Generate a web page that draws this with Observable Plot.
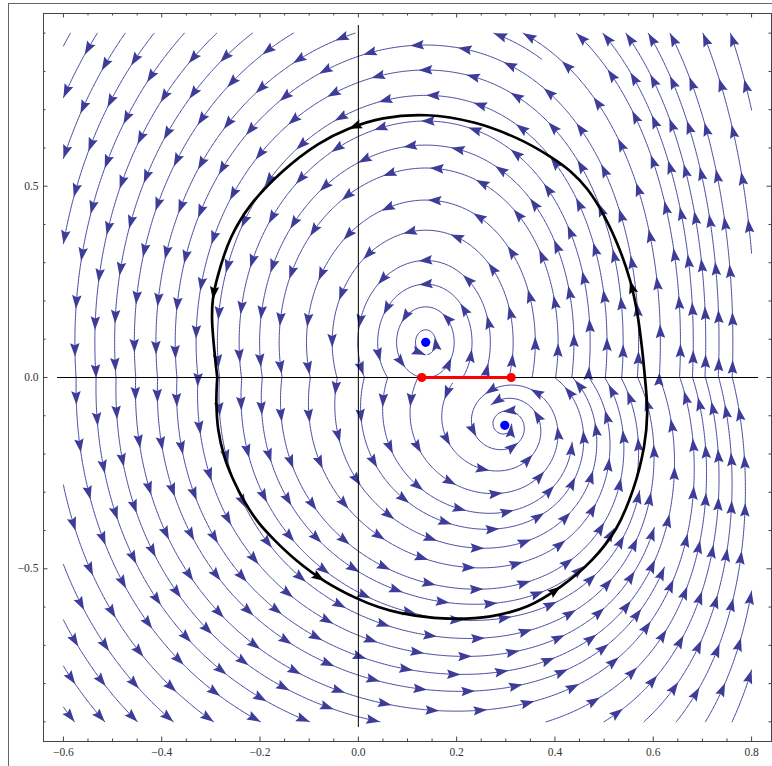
<!DOCTYPE html>
<html><head><meta charset="utf-8">
<script src="https://cdn.jsdelivr.net/npm/d3@7"></script>
<script src="https://cdn.jsdelivr.net/npm/@observablehq/plot@0.6"></script>
<style>
html,body{margin:0;padding:0;background:#fff;overflow:hidden;}
#wrap{position:relative;width:772px;height:766px;}
#border{position:absolute;left:8px;top:3px;width:780px;height:780px;border-left:1px solid #666;border-top:1px solid #666;pointer-events:none;}
#wrap svg{position:absolute;left:0;top:0;}
</style></head><body><div id="wrap"><div id="border"></div></div>
<script>
// ---------------- data ----------------
const xTicksMajor = [-0.6, -0.4, -0.2, 0.0, 0.2, 0.4, 0.6, 0.8];
const xTicksMinor = [-0.55,-0.5,-0.45,-0.35,-0.3,-0.25,-0.15,-0.1,-0.05,0.05,0.1,0.15,0.25,0.3,0.35,0.45,0.5,0.55,0.65,0.7,0.75];
const yTicksMajor = [-0.5, 0.0, 0.5];
const yTicksMinor = [-0.9,-0.8,-0.7,-0.6,-0.4,-0.3,-0.2,-0.1,0.1,0.2,0.3,0.4,0.6,0.7,0.8,0.9];
const xDomain = [-0.6405, 0.8405];
const yDomain = [-0.9514, 0.9514];
const streamRegionX = [-0.6, 0.8];
const streamRegionY = [-0.9, 0.9];
const axisExtentX = [-0.612, 0.814];
const axisExtentY = [-0.915, 0.92];
// equilibria (blue points)
const centers = [[0.137, 0.092], [0.298, -0.125]];
// sliding segment (red)
const slidingSegment = [[0.129, 0], [0.311, 0]];
// estimated vector-field coefficients [k, q, s, lambda, c] for the upper (y>0) and lower (y<0) half-planes
const upperFieldCoef = [0.55, 2.5, 2.0, 0.0, 0.0];
const lowerFieldCoef = [0.85, 1.5, 2.0, -0.2, -0.2];
const orbitUpper = [
  [0.583,0.0],[0.578,0.0706],[0.568,0.175],[0.554,0.2535],[0.534,0.332],[0.500,0.428],[0.466,0.497],
  [0.432,0.541],[0.391,0.578],[0.330,0.625],[0.235,0.672],[0.140,0.691],[0.045,0.682],[-0.022,0.650],
  [-0.077,0.619],[-0.158,0.541],[-0.226,0.445],[-0.260,0.376],[-0.290,0.2535],[-0.297,0.201],
  [-0.299,0.160],[-0.294,0.079],[-0.287,0.0]
];
const orbitLower = [
  [-0.287,0.0],[-0.290,-0.060],[-0.287,-0.1385],[-0.2735,-0.208],[-0.258,-0.261],[-0.228,-0.335],
  [-0.2056,-0.378],[-0.172,-0.424],[-0.131,-0.475],[-0.070,-0.535],[-0.002,-0.580],[0.045,-0.602],
  [0.0725,-0.614],[0.174,-0.636],[0.276,-0.627],[0.344,-0.604],[0.412,-0.550],[0.4795,-0.478],
  [0.527,-0.400],[0.561,-0.298],[0.585,-0.168],[0.590,-0.100],[0.583,0.0]
];
// arrows on the orbit: [which arc, index]
const orbitArrows = [[0,3],[0,13],[0,19],[1,9],[1,16]];

// ---------------- layout ----------------
const W = 772, H = 766, mL = 43, mR = 1, mT = 13, mB = 25;
const sx = (W - mL - mR) / (xDomain[1] - xDomain[0]);
const sy = (H - mT - mB) / (yDomain[1] - yDomain[0]);
const px = x => mL + (x - xDomain[0]) * sx;
const py = y => mT + (yDomain[1] - y) * sy;
const ix = X => xDomain[0] + (X - mL) / sx;
const iy = Y => yDomain[1] - (Y - mT) / sy;
const blue = "#3d3d99";

// light smoothing of the hand-digitised orbit (endpoints kept)
function smooth(pts, passes) {
  let p = pts.map(d => d.slice());
  for (let k = 0; k < passes; k++) {
    p = p.map((d, i) => (i === 0 || i === p.length - 1) ? d :
      [0.2 * p[i-1][0] + 0.6 * d[0] + 0.2 * p[i+1][0], 0.2 * p[i-1][1] + 0.6 * d[1] + 0.2 * p[i+1][1]]);
  }
  return p;
}
const orbitUpperS = smooth(orbitUpper, 1);
const orbitLowerS = smooth(orbitLower, 1);

// ---------------- streamlines (evenly spaced) ----------------
const RX0 = px(streamRegionX[0]), RX1 = px(streamRegionX[1]);
const RY0 = py(streamRegionY[1]), RY1 = py(streamRegionY[0]);
const axisPy = py(0);
const cP = centers.map(c => [px(c[0]), py(c[1])]);

function velSide(Xp, Yp, upper) {
  const x = ix(Xp), y = iy(Yp);
  const [cx, cy] = upper ? centers[0] : centers[1];
  const [k, q, s3, lam, c] = upper ? upperFieldCoef : lowerFieldCoef;
  const X = x - cx, Y = y - cy;
  const vx = -Y * (1 - k * X) + lam * X;
  const vy = q * X + s3 * X * X * X + c * Y;
  return [vx * sx, -vy * sy];
}

const dsep = 23, dtest = 11.5, h = 1.5;
const cell = dsep;
const gw = Math.ceil(W / cell) + 2, gh = Math.ceil(H / cell) + 2;
const newGrid = () => Array.from({length: gw * gh}, () => []);
const grid = newGrid();
function gAdd(g, p) { const i = Math.floor(p[0] / cell), j = Math.floor(p[1] / cell); if (i>=0&&j>=0&&i<gw&&j<gh) g[j * gw + i].push(p); }
function gNear(g, X, Y, d, filter) {
  const i = Math.floor(X / cell), j = Math.floor(Y / cell), r = Math.ceil(d / cell);
  for (let jj = j - r; jj <= j + r; jj++) for (let ii = i - r; ii <= i + r; ii++) {
    if (ii < 0 || jj < 0 || ii >= gw || jj >= gh) continue;
    for (const p of g[jj * gw + ii]) {
      if ((p[0] - X) ** 2 + (p[1] - Y) ** 2 < d * d && (!filter || filter(p))) return true;
    }
  }
  return false;
}
const inRect = (X, Y) => X >= RX0 && X <= RX1 && Y >= RY0 && Y <= RY1;
function clipSeg(p, q) {
  let t = 1;
  if (q[0] < RX0) t = Math.min(t, (RX0 - p[0]) / (q[0] - p[0]));
  if (q[0] > RX1) t = Math.min(t, (RX1 - p[0]) / (q[0] - p[0]));
  if (q[1] < RY0) t = Math.min(t, (RY0 - p[1]) / (q[1] - p[1]));
  if (q[1] > RY1) t = Math.min(t, (RY1 - p[1]) / (q[1] - p[1]));
  return [p[0] + t * (q[0] - p[0]), p[1] + t * (q[1] - p[1])];
}
function trace(seed, s, selfGrid, arcSign) {
  const pts = [];
  let p = seed, arc = 0;
  for (let n = 0; n < 3000; n++) {
    const up = p[1] <= axisPy;
    let v = velSide(p[0], p[1], up), m = Math.hypot(v[0], v[1]);
    if (m < 1e-9) break;
    const mx = p[0] + s * v[0] / m * h * 0.5, my = p[1] + s * v[1] / m * h * 0.5;
    v = velSide(mx, my, up); m = Math.hypot(v[0], v[1]);
    if (m < 1e-9) break;
    let q = [p[0] + s * v[0] / m * h, p[1] + s * v[1] / m * h];
    const upq = q[1] <= axisPy;
    if (upq !== up) {
      const t = (axisPy - p[1]) / (q[1] - p[1]);
      const xc = p[0] + t * (q[0] - p[0]);
      const vo = velSide(xc, axisPy, upq);
      if (Math.sign(s * vo[1]) !== Math.sign(q[1] - p[1])) { pts.push([xc, axisPy, arcSign * (arc + h * t)]); break; }
    }
    if (!inRect(q[0], q[1])) { const c = clipSeg(p, q); pts.push([c[0], c[1], arcSign * (arc + h)]); break; }
    if (cP.some(c => Math.hypot(q[0] - c[0], q[1] - c[1]) < 5)) break;
    if (gNear(grid, q[0], q[1], dtest)) break;
    arc += h;
    const a = arcSign * arc;
    if (gNear(selfGrid, q[0], q[1], dtest, pp => Math.abs(pp[2] - a) > 3 * dsep)) break;
    q.push(a);
    pts.push(q); gAdd(selfGrid, q); p = q;
  }
  return pts;
}
function validSeed(X, Y) {
  if (!inRect(X, Y)) return false;
  if (cP.some(c => Math.hypot(X - c[0], Y - c[1]) < 8)) return false;
  return !gNear(grid, X, Y, dsep * 0.95);
}
const lines = [];
function makeLine(X, Y) {
  if (!validSeed(X, Y)) return null;
  const selfGrid = newGrid();
  const seed = [X, Y, 0];
  gAdd(selfGrid, seed);
  const back = trace(seed, -1, selfGrid, -1);
  const fwd = trace(seed, 1, selfGrid, 1);
  const pts = back.reverse().concat([seed], fwd);
  let len = 0;
  for (let i = 1; i < pts.length; i++) len += Math.hypot(pts[i][0] - pts[i-1][0], pts[i][1] - pts[i-1][1]);
  if (len < 8) return null;
  for (const p of pts) gAdd(grid, p);
  lines.push(pts);
  return pts;
}
const queue = [];
function process(X, Y) {
  const l = makeLine(X, Y);
  if (l) queue.push(l);
  while (queue.length) {
    const L = queue.shift();
    for (let i = 0; i < L.length; i += 5) {
      const a = L[Math.max(0, i - 1)], b = L[Math.min(L.length - 1, i + 1)];
      let dx = b[0] - a[0], dy = b[1] - a[1]; const m = Math.hypot(dx, dy) || 1;
      dx /= m; dy /= m;
      for (const sgn of [1, -1]) {
        const l2 = makeLine(L[i][0] - sgn * dy * dsep, L[i][1] + sgn * dx * dsep);
        if (l2) queue.push(l2);
      }
    }
  }
}
process(px(0.45), py(0.45));
for (let Y = RY0 + 2; Y <= RY1; Y += dsep / 2) for (let X = RX0 + 2; X <= RX1; X += dsep / 2) process(X, Y);

// line data and arrowheads
const streamData = [];
const arrowData = [];
const arrowGap = 48;
lines.forEach((L, id) => {
  const cum = [0];
  for (let i = 1; i < L.length; i++) cum.push(cum[i-1] + Math.hypot(L[i][0] - L[i-1][0], L[i][1] - L[i-1][1]));
  const total = cum[cum.length - 1];
  for (const p of L) streamData.push({id, x: ix(p[0]), y: iy(p[1])});
  if (total < 16) return;
  let j = L.length - 1;
  for (let pos = total; pos >= 14; pos -= arrowGap) {
    while (j > 1 && cum[j - 1] >= pos) j--;
    const a = L[j - 1], b = L[j];
    const t = (pos - cum[j - 1]) / ((cum[j] - cum[j - 1]) || 1);
    const X = a[0] + t * (b[0] - a[0]), Y = a[1] + t * (b[1] - a[1]);
    const k0 = Math.max(0, j - 4);
    const dx = b[0] - L[k0][0], dy = b[1] - L[k0][1];
    arrowData.push({x: ix(X), y: iy(Y), a: Math.atan2(dx, -dy) * 180 / Math.PI});
  }
});

// orbit arrows
const orbitArcs = [orbitUpperS, orbitLowerS];
const orbitArrowData = orbitArrows.map(([arc, i]) => {
  const A = orbitArcs[arc];
  const p0 = A[i - 1], p1 = A[i + 1], p = A[i];
  const dx = (p1[0] - p0[0]) * sx, dy = -(p1[1] - p0[1]) * sy;
  return {x: p[0], y: p[1], a: Math.atan2(dx, -dy) * 180 / Math.PI};
});

// arrowhead symbol with tip at the origin, pointing up
const arrowHead = {
  draw(ctx, size) {
    const r = Math.sqrt(size / Math.PI);
    ctx.moveTo(0, 0);
    ctx.lineTo(0.68 * r, 1.95 * r);
    ctx.lineTo(0, 1.65 * r);
    ctx.lineTo(-0.68 * r, 1.95 * r);
    ctx.closePath();
  }
};

const fmt = d3.format(".1f");
const tMaj = 4.5, tMin = 2.5, tickColor = "#444";
const font = "Liberation Serif, Times New Roman, serif";

const chart = Plot.plot({
  width: W, height: H,
  marginLeft: mL, marginRight: mR, marginTop: mT, marginBottom: mB,
  x: {domain: xDomain, axis: null},
  y: {domain: yDomain, axis: null},
  style: {background: "transparent", overflow: "visible"},
  marks: [
    Plot.line(streamData, {x: "x", y: "y", z: "id", stroke: blue, strokeWidth: 0.95}),
    Plot.dot(arrowData, {x: "x", y: "y", rotate: "a", r: 7, symbol: arrowHead, fill: blue, stroke: "none"}),
    Plot.ruleY([0], {x1: axisExtentX[0], x2: axisExtentX[1], stroke: "#000", strokeWidth: 1}),
    Plot.ruleX([0], {y1: axisExtentY[0], y2: axisExtentY[1], stroke: "#000", strokeWidth: 1}),
    Plot.line(orbitUpperS, {curve: "catmull-rom", stroke: "#000", strokeWidth: 2.7}),
    Plot.line(orbitLowerS, {curve: "catmull-rom", stroke: "#000", strokeWidth: 2.7}),
    Plot.dot(orbitArrowData, {x: "x", y: "y", rotate: "a", r: 6.8, symbol: arrowHead, fill: "#000", stroke: "none"}),
    Plot.line(slidingSegment, {stroke: "#ff0000", strokeWidth: 3}),
    Plot.dot(slidingSegment, {r: 4.6, fill: "#ff0000", stroke: "none"}),
    Plot.dot(centers, {r: 4.6, fill: "#0000ff", stroke: "none"}),
    Plot.frame({stroke: tickColor, strokeWidth: 1}),
    // ticks (inward, all four sides)
    Plot.ruleX(xTicksMajor, {x: d => d, y1: yDomain[0], y2: yDomain[0] + tMaj / sy, stroke: tickColor}),
    Plot.ruleX(xTicksMinor, {x: d => d, y1: yDomain[0], y2: yDomain[0] + tMin / sy, stroke: tickColor}),
    Plot.ruleX(xTicksMajor, {x: d => d, y1: yDomain[1] - tMaj / sy, y2: yDomain[1], stroke: tickColor}),
    Plot.ruleX(xTicksMinor, {x: d => d, y1: yDomain[1] - tMin / sy, y2: yDomain[1], stroke: tickColor}),
    Plot.ruleY(yTicksMajor, {y: d => d, x1: xDomain[0], x2: xDomain[0] + tMaj / sx, stroke: tickColor}),
    Plot.ruleY(yTicksMinor, {y: d => d, x1: xDomain[0], x2: xDomain[0] + tMin / sx, stroke: tickColor}),
    Plot.ruleY(yTicksMajor, {y: d => d, x1: xDomain[1] - tMaj / sx, x2: xDomain[1], stroke: tickColor}),
    Plot.ruleY(yTicksMinor, {y: d => d, x1: xDomain[1] - tMin / sx, x2: xDomain[1], stroke: tickColor}),
    Plot.text(xTicksMajor, {x: d => d, y: yDomain[0], dy: 11, text: d => fmt(d), fontFamily: font, fontSize: 11.5, fill: "#333", textAnchor: "middle", lineAnchor: "middle"}),
    Plot.text(yTicksMajor, {x: xDomain[0], y: d => d, dx: -5, text: d => fmt(d), fontFamily: font, fontSize: 11.5, fill: "#333", textAnchor: "end", lineAnchor: "middle"})
  ]
});
document.getElementById("wrap").appendChild(chart);
</script>
</body></html>
